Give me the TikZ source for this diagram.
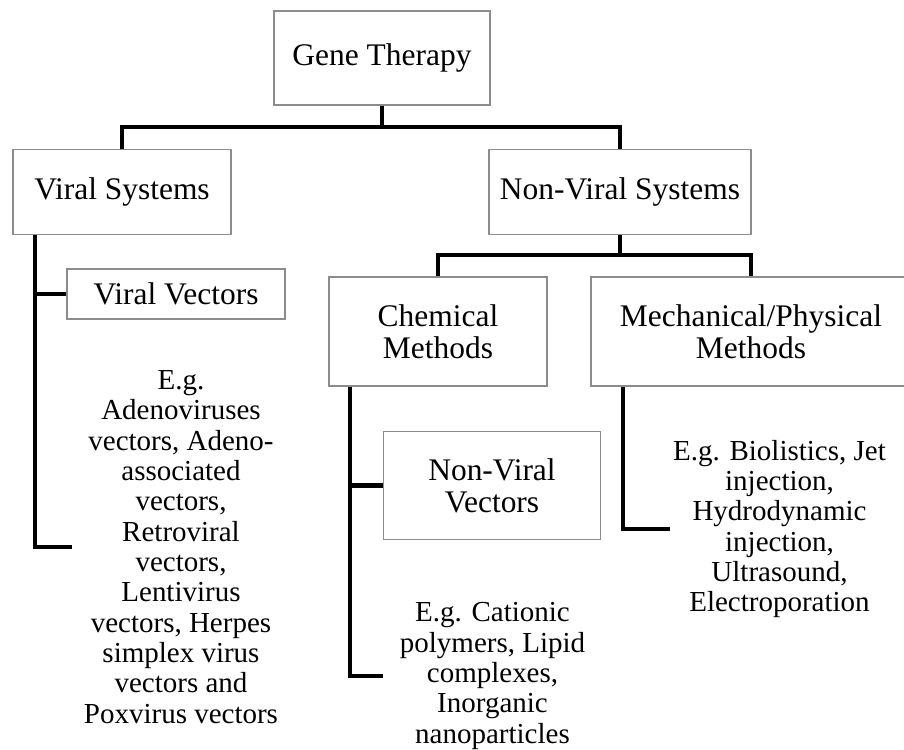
\documentclass[tikz,border=0pt]{standalone}
\usepackage{fontspec}
\setmainfont{Liberation Serif}
\usepackage{xcolor}
\definecolor{BoxGray}{HTML}{8C8C8C}
\usepackage{tikz}
\usetikzlibrary{calc,positioning}

\begin{document}
\begin{tikzpicture}[
        box/.style={rectangle, draw=BoxGray, line width=1.1pt, fill=white, inner sep=0pt, align=center, font=\fontsize{17.9}{18.4}\selectfont},
        note/.style={inner sep=0pt, minimum width=4.36cm, align=center, font=\fontsize{16.5}{17.25}\selectfont},
        link/.style={draw=black, line width=2.3pt}
    ]
        \useasboundingbox (0,0) rectangle (18.08,14.98);
        \clip (0,0) rectangle (18.08,14.98);

        % Boxes
        \node[box, minimum width=4.32cm, minimum height=1.88cm] (gene) at (7.64,13.82) {Gene Therapy};
        \node[box, minimum width=4.36cm, minimum height=1.7cm] (viral) at (2.44,11.14) {Viral Systems};
        \node[box, minimum width=5.24cm, minimum height=1.7cm] (nonviral) at (12.40,11.14) {Non-Viral Systems};
        \node[box, minimum width=4.36cm, minimum height=2.18cm] (chem) at (8.76,8.35) {Chemical\\Methods};
        \node[box, minimum width=6.4cm, minimum height=2.18cm] (mech) at (15.02,8.35) {Mechanical/Physical\\Methods};
        \node[box, minimum width=4.36cm, minimum height=1.0cm] (vvec) at (3.52,9.1) {Viral Vectors};
        \node[box, minimum width=4.34cm, minimum height=2.16cm] (nvvec) at (9.84,5.27) {Non-Viral\\Vectors};

        % Examples
        \node[note] (viralex) at (3.62,4.04) {E.g.\\Adenoviruses\\vectors, Adeno-\\associated\\vectors,\\Retroviral\\vectors,\\Lentivirus\\vectors, Herpes\\simplex virus\\vectors and\\Poxvirus vectors};
        \node[note] (chemex) at (9.85,1.46) {E.g. Cationic\\polymers, Lipid\\complexes,\\Inorganic\\nanoparticles};
        \node[note] (mechex) at (15.59,4.4) {E.g. Biolistics, Jet\\injection,\\Hydrodynamic\\injection,\\Ultrasound,\\Electroporation};

        % Tree
        \coordinate (topsplit) at (7.64,12.44);
        \coordinate (nvsplit) at (12.40,9.88);
        \draw[link] (gene.south) -- (topsplit);
        \draw[link] (viral.north) |- (topsplit) -| (nonviral.north);
        \draw[link] (nonviral.south) -- (nvsplit);
        \draw[link] (chem.north) |- (nvsplit) -| (mech.north);

        % Branches
        \draw[link] ([xshift=0.46cm]viral.south west) |- (vvec.west);
        \draw[link] ([xshift=0.46cm]viral.south west) |- (viralex.west);
        \draw[link] ([xshift=0.44cm]chem.south west) |- (nvvec.west);
        \draw[link] ([xshift=0.44cm]chem.south west) |- (chemex.west);
        \draw[link] ([xshift=0.65cm]mech.south west) |- (mechex.west);

    \end{tikzpicture}
\end{document}
